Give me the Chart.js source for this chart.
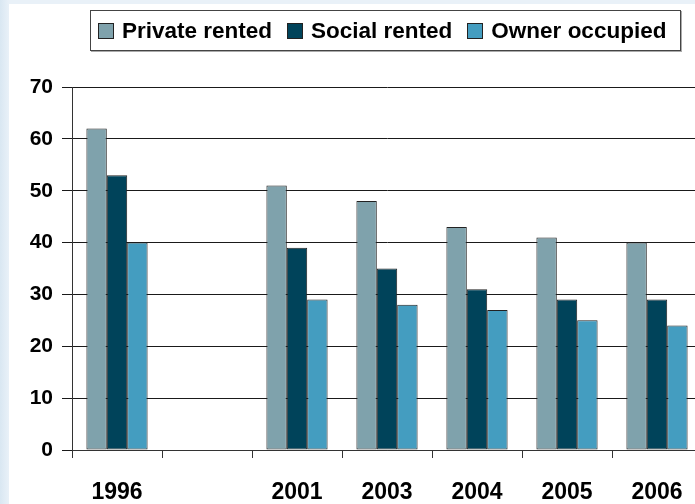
<!DOCTYPE html>
<html>
<head>
<meta charset="utf-8">
<script src="https://cdn.jsdelivr.net/npm/chart.js@4.4.1/dist/chart.umd.min.js"></script>
<style>
  html, body {
    margin: 0;
    padding: 0;
    width: 695px;
    height: 504px;
    overflow: hidden;
    background: linear-gradient(90deg, #d9e7f2 0px, #e9f1f8 9px);
    font-family: "Liberation Sans", Arial, sans-serif;
  }
  #panel {
    position: absolute;
    left: 9px;
    top: 4px;
    width: 720px;
    height: 520px;
    background: #fff;
  }
  #wrap {
    position: absolute;
    left: 0;
    top: 0;
    width: 710px;
    height: 504px;
  }
  #legend {
    position: absolute;
    left: 90px;
    top: 10px;
    height: 39px;
    border: 1px solid #444;
    box-shadow: 1px 1px 0 #aaa;
    background: #fff;
    display: flex;
    align-items: center;
    padding-left: 7px;
    width: 582px;
    font-weight: bold;
    font-size: 22.5px;
    color: #000;
  }
  #legend .item {
    display: flex;
    align-items: center;
    margin-right: 15px;
    white-space: nowrap;
  }
  #legend .item:last-child {
    margin-right: 0;
  }
  #legend .swatch {
    display: inline-block;
    width: 14px;
    height: 14px;
    border: 1px solid #222;
    margin-right: 8px;
  }
</style>
</head>
<body>
<div id="panel"></div>
<div id="wrap"><canvas id="tenureChart"></canvas></div>
<div id="legend"></div>
<script>
  // survey years; the empty slot keeps the gap before 2001
  const years = ['1996', '', '2001', '2003', '2004', '2005', '2006'];
  const privateRented = [62, null, 51, 48, 43, 41, 40];
  const socialRented = [53, null, 39, 35, 31, 29, 29];
  const ownerOccupied = [40, null, 29, 28, 27, 25, 24];
  const yTicks = [0, 10, 20, 30, 40, 50, 60, 70];

  const seriesNames = ['Private rented', 'Social rented', 'Owner occupied'];
  const seriesColors = ['#7fa2ac', '#00435a', '#449dc0'];

  const tickFont = { family: '"Liberation Sans", Arial, sans-serif', weight: 'bold' };

  const datasets = [privateRented, socialRented, ownerOccupied].map((values, i) => ({
    label: seriesNames[i],
    data: values,
    backgroundColor: seriesColors[i],
    borderColor: '#222',
    borderWidth: 1,
    borderSkipped: false,
    categoryPercentage: 0.68,
    barPercentage: 1.0,
  }));

  const ctx = document.getElementById('tenureChart').getContext('2d');
  /* global Chart */
  new Chart(ctx, {
    type: 'bar',
    data: { labels: years, datasets: datasets },
    options: {
      responsive: true,
      maintainAspectRatio: false,
      animation: false,
      layout: {
        padding: { top: 87, right: 8, bottom: 0, left: 0 },
      },
      plugins: {
        legend: { display: false },
        tooltip: { enabled: false },
      },
      scales: {
        y: {
          min: 0,
          max: 70,
          afterFit: (scale) => { scale.width = 72; },
          afterBuildTicks: (scale) => {
            scale.ticks = yTicks.map((v) => ({ value: v }));
          },
          grid: {
            color: '#1a1a1a',
            lineWidth: 1,
            tickLength: 10,
          },
          border: { color: '#333', width: 1 },
          ticks: {
            color: '#000',
            padding: 9,
            font: Object.assign({ size: 21 }, tickFont),
          },
        },
        x: {
          afterFit: (scale) => { scale.height = 54; },
          grid: {
            drawOnChartArea: false,
            color: '#333',
            tickLength: 8,
            offset: true,
          },
          border: { color: '#333', width: 1 },
          ticks: {
            color: '#000',
            padding: 21,
            maxRotation: 0,
            autoSkip: false,
            font: Object.assign({ size: 23 }, tickFont),
          },
        },
      },
    },
  });

  // boxed legend above the plot
  const legend = document.getElementById('legend');
  seriesNames.forEach((name, i) => {
    const item = document.createElement('span');
    item.className = 'item';
    const sw = document.createElement('span');
    sw.className = 'swatch';
    sw.style.background = seriesColors[i];
    item.appendChild(sw);
    item.appendChild(document.createTextNode(name));
    legend.appendChild(item);
  });
</script>
</body>
</html>
